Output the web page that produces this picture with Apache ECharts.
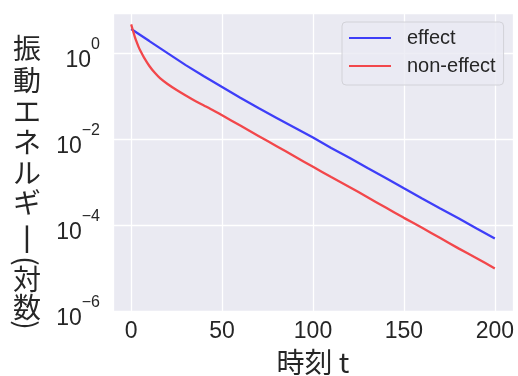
<!DOCTYPE html>
<html>
<head>
<meta charset="utf-8">
<script src="https://cdn.jsdelivr.net/npm/echarts@6/dist/echarts.min.js"></script>
<style>
html,body{margin:0;padding:0;background:#fff;}
#c{width:518px;height:376px;}
</style>
</head>
<body>
<div id="c"></div>
<script>
// ---- data ----
const effectT = [0,10,20,30,40,50,60,70,80,90,100,110,120,130,140,150,160,170,180,190,200];
const effectE = [3.72,1.95,1.02,0.537,0.295,0.166,0.0933,0.0537,0.0316,0.0186,0.0110,6.31e-3,3.72e-3,2.14e-3,1.26e-3,7.24e-4,4.17e-4,2.45e-4,1.45e-4,8.32e-5,4.90e-5];
const nonEffectT = [0,1,2,3,4,5,7,10,13,16,20,25,30,35,40,45,50,60,70,80,90,100,110,120,130,140,150,160,170,180,190,200];
const nonEffectE = [4.79,3.39,2.45,1.86,1.45,1.17,0.813,0.513,0.355,0.263,0.195,0.141,0.105,0.0794,0.0617,0.0479,0.0363,0.0209,0.0120,6.92e-3,3.98e-3,2.29e-3,1.32e-3,7.76e-4,4.47e-4,2.57e-4,1.48e-4,8.71e-5,5.01e-5,2.88e-5,1.70e-5,9.77e-6];
const seriesNames = ['effect','non-effect'];
const xTicks = [0,50,100,150,200];
const yTickExps = [-6,-4,-2,0];
const xLabel = '時刻 t';
const yLabelChars = ['振','動','エ','ネ','ル','ギ','丨','(','対','数',')'];

const chart = echarts.init(document.getElementById('c'), null, {renderer:'canvas'});
const txt = '#262626';
const numFont = 'Liberation Sans, Arial, sans-serif';
const cjkFont = 'Noto Sans CJK JP, sans-serif';

// y label layout (centers), parentheses turned to vertical form
const yLabelY = [48,80,111,142,173,202,239,261,279,307,325];
const graphicEls = yLabelChars.map((ch,i)=>{
  const isParen = (ch==='(' || ch===')');
  return {
    type:'text', x: 27, y: yLabelY[i], rotation: isParen ? -Math.PI/2 : 0,
    style:{text: ch, fill: txt, font: (ch==='丨' ? '30px' : '28px') + ' "Noto Sans CJK JP"', textAlign:'center', textVerticalAlign:'middle'}
  };
});

chart.setOption({
  backgroundColor:'#ffffff',
  animation:false,
  grid:{left:113,right:5,top:13,bottom:65,show:true,backgroundColor:'#eaeaf2',borderWidth:0,
        containLabel:false, outerBoundsMode:'none'},
  legend:{
    data: seriesNames, orient:'vertical', left:342, top:22,
    padding:[6,8,9,7], itemWidth:42, itemHeight:2, itemGap:8, icon:'rect',
    backgroundColor:'rgba(234,234,242,0.8)', borderColor:'#d2d2d8', borderWidth:1, borderRadius:4,
    textStyle:{fontSize:20, lineHeight:20, color:txt, fontFamily:numFont, padding:[0,0,0,11]}
  },
  xAxis:{
    type:'value', min:-10, max:210, splitNumber:5,
    axisLine:{show:false}, axisTick:{show:false},
    axisLabel:{fontSize:23, color:txt, fontFamily:numFont, margin:9, showMinLabel:false, showMaxLabel:false,
      formatter:(v)=> xTicks.indexOf(v)>=0 ? String(v) : ''},
    splitLine:{show:true, lineStyle:{color:'#ffffff', width:1.3}},
    name: xLabel, nameLocation:'middle', nameGap:37,
    nameTextStyle:{fontSize:28, color:txt, fontFamily:cjkFont}
  },
  yAxis:{
    type:'log', logBase:10, min:1e-6, max:8.8, interval:2,
    axisLine:{show:false}, axisTick:{show:false},
    axisLabel:{color:txt, margin:13, showMaxLabel:false,
      formatter:(v)=>{
        const e=Math.log10(v), r=Math.round(e);
        if (Math.abs(e-r)>1e-6 || yTickExps.indexOf(r)<0) return '';
        return '{b|10}{s|'+(r<0?'\u2212'+(-r):r)+'}';
      },
      rich:{
        b:{fontSize:23, color:txt, fontFamily:numFont, padding:[15,0,0,0]},
        s:{fontSize:16, color:txt, fontFamily:numFont, padding:[0,0,17,0]}
      }
    },
    splitLine:{show:true, lineStyle:{color:'#ffffff', width:1.3}}
  },
  graphic: graphicEls,
  series:[
    {name:seriesNames[0], type:'line', showSymbol:false, symbol:'none',
     data: effectT.map((t,i)=>[t,effectE[i]]),
     lineStyle:{width:2.3, color:'#3e3ef8'}, itemStyle:{color:'#3e3ef8'}},
    {name:seriesNames[1], type:'line', showSymbol:false, symbol:'none', smooth:0.2,
     data: nonEffectT.map((t,i)=>[t,nonEffectE[i]]),
     lineStyle:{width:2.3, color:'#f2474b'}, itemStyle:{color:'#f2474b'}}
  ]
});
</script>
</body>
</html>
